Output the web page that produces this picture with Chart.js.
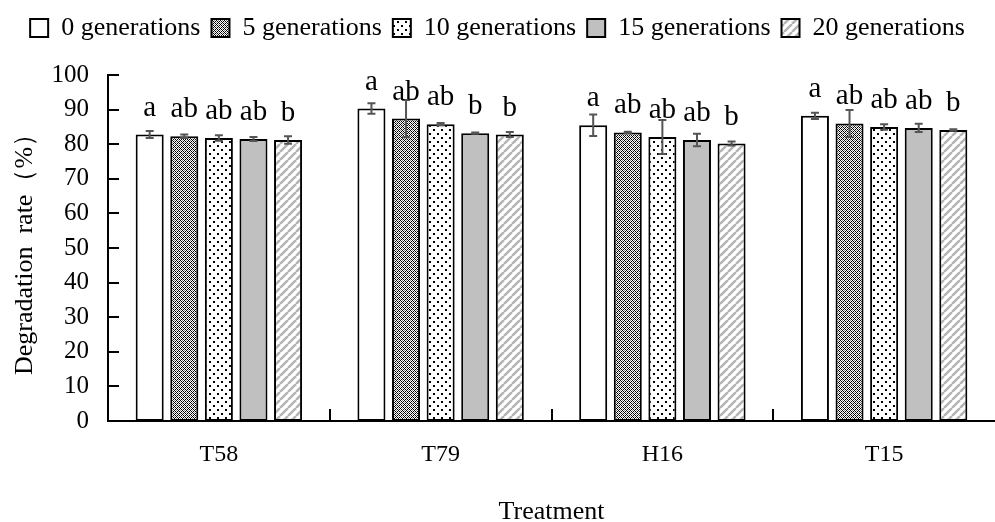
<!DOCTYPE html>
<html>
<head>
<meta charset="utf-8">
<script src="https://cdn.jsdelivr.net/npm/chart.js@4.4.1/dist/chart.umd.min.js"></script>
<style>
    body { margin: 0; background: #fff; }
    #wrap { width: 995px; height: 522px; }
</style>
</head>
<body>
<div id="wrap"><canvas id="degChart"></canvas></div>
<script>
// Datos
const categories = ['T58', 'T79', 'H16', 'T15'];
const seriesNames = ['0 generations', '5 generations', '10 generations', '15 generations', '20 generations'];

const gen0 = [82.8, 90.3, 85.5, 88.2];
const gen5 = [82.3, 87.4, 83.4, 86.0];
const gen10 = [81.8, 85.8, 82.1, 85.0];
const gen15 = [81.5, 83.2, 81.2, 84.7];
const gen20 = [81.2, 82.8, 80.2, 84.1];

const err0 = [1.0, 1.5, 3.1, 0.9];
const err5 = [0.5, 5.4, 0.2, 3.9];
const err10 = [0.8, 0.3, 4.9, 0.8];
const err15 = [0.6, 0.2, 1.8, 1.2];
const err20 = [1.1, 0.7, 0.6, 0.2];

const letters0 = ['a', 'a', 'a', 'a'];
const letters5 = ['ab', 'ab', 'ab', 'ab'];
const letters10 = ['ab', 'ab', 'ab', 'ab'];
const letters15 = ['ab', 'b', 'ab', 'ab'];
const letters20 = ['b', 'b', 'b', 'b'];

const yTicks = { min: 0, max: 100, step: 10 };

const FONT = "'Liberation Serif', 'Times New Roman', serif";

// Patrones de relleno
function makePattern(size, draw) {
    const c = document.createElement('canvas');
    c.width = size;
    c.height = size;
    const p = c.getContext('2d');
    p.fillStyle = '#fff';
    p.fillRect(0, 0, size, size);
    draw(p, size);
    return document.getElementById('degChart').getContext('2d').createPattern(c, 'repeat');
}

const checkPattern = makePattern(4, (p) => {
    p.fillStyle = '#000';
    for (let x = 0; x < 4; x++) {
        for (let y = 0; y < 4; y++) {
            if ((x + y) % 4 === 0 || (x - y + 4) % 4 === 0) p.fillRect(x, y, 1, 1);
        }
    }
    p.fillStyle = '#888';
    p.fillRect(2, 0, 1, 1);
    p.fillRect(0, 2, 1, 1);
});

const dotPattern = makePattern(8, (p) => {
    p.fillStyle = '#000';
    p.fillRect(1, 1, 2, 2);
    p.fillRect(5, 5, 2, 2);
});

const stripePattern = makePattern(8, (p, s) => {
    p.strokeStyle = '#b4b4b4';
    p.lineWidth = 2.5;
    for (let k = -1; k <= 1; k++) {
        p.beginPath();
        p.moveTo(k * s, s);
        p.lineTo(k * s + s, 0);
        p.stroke();
    }
});

const values = [gen0, gen5, gen10, gen15, gen20];
const errors = [err0, err5, err10, err15, err20];
const letters = [letters0, letters5, letters10, letters15, letters20];
const fills = ['#ffffff', checkPattern, dotPattern, '#c0c0c0', stripePattern];

const datasets = values.map((v, i) => ({
    label: seriesNames[i],
    data: v,
    backgroundColor: fills[i],
    borderColor: '#000',
    borderWidth: 2,
    borderSkipped: false,
    categoryPercentage: 0.78,
    barPercentage: 0.81
}));

// Barras de error y letras
const errorBars = {
    id: 'errorBars',
    afterDatasetsDraw(chart) {
        const ctx = chart.ctx;
        const y = chart.scales.y;
        ctx.save();
        values.forEach((v, i) => {
            const meta = chart.getDatasetMeta(i);
            meta.data.forEach((bar, j) => {
                const top = y.getPixelForValue(v[j] + errors[i][j]);
                const bot = y.getPixelForValue(v[j] - errors[i][j]);
                ctx.strokeStyle = '#555';
                ctx.lineWidth = 2;
                ctx.beginPath();
                ctx.moveTo(bar.x, top);
                ctx.lineTo(bar.x, bot);
                ctx.moveTo(bar.x - 4, top);
                ctx.lineTo(bar.x + 4, top);
                ctx.moveTo(bar.x - 4, bot);
                ctx.lineTo(bar.x + 4, bot);
                ctx.stroke();

                ctx.fillStyle = '#000';
                ctx.font = '29px ' + FONT;
                ctx.textAlign = 'center';
                ctx.textBaseline = 'alphabetic';
                ctx.fillText(letters[i][j], bar.x, bar.y - 19);
            });
        });
        ctx.restore();
    }
};

// Marcas de los ejes hacia dentro
const innerTicks = {
    id: 'innerTicks',
    afterDraw(chart) {
        const ctx = chart.ctx;
        const area = chart.chartArea;
        const x = chart.scales.x;
        const y = chart.scales.y;
        ctx.save();
        ctx.strokeStyle = '#000';
        ctx.lineWidth = 2;
        ctx.beginPath();
        y.ticks.forEach(t => {
            const py = Math.round(y.getPixelForValue(t.value));
            ctx.moveTo(area.left, py);
            ctx.lineTo(area.left + 11, py);
        });
        for (let i = 1; i < categories.length; i++) {
            const px = Math.round(x.getPixelForValue(i - 0.5));
            ctx.moveTo(px, area.bottom);
            ctx.lineTo(px, area.bottom - 12);
        }
        ctx.stroke();
        ctx.restore();
    }
};

// Espacio extra bajo la leyenda
const legendSpace = {
    id: 'legendSpace',
    beforeInit(chart) {
        const fit = chart.legend.fit;
        chart.legend.fit = function () {
            fit.bind(chart.legend)();
            this.height += 24;
        };
    }
};

const ctx = document.getElementById('degChart').getContext('2d');
new Chart(ctx, {
    type: 'bar',
    data: {
        labels: categories,
        datasets: datasets
    },
    options: {
        responsive: true,
        maintainAspectRatio: false,
        animation: false,
        layout: { padding: { top: 4, right: 0, bottom: 0, left: 0 } },
        plugins: {
            legend: {
                position: 'top',
                labels: {
                    boxWidth: 18,
                    boxHeight: 18,
                    padding: 11,
                    color: '#000',
                    font: { family: FONT, size: 26 }
                }
            },
            tooltip: { enabled: false }
        },
        scales: {
            x: {
                grid: { display: false },
                border: { color: '#000', width: 2 },
                afterFit(scale) { scale.height = 101; },
                ticks: {
                    color: '#000',
                    padding: 11,
                    font: { family: FONT, size: 24 }
                },
                title: {
                    display: true,
                    text: 'Treatment',
                    color: '#000',
                    padding: { top: 10, bottom: -6 },
                    font: { family: FONT, size: 26 }
                }
            },
            y: {
                min: yTicks.min,
                max: yTicks.max,
                grid: { display: false },
                border: { color: '#000', width: 2 },
                afterFit(scale) { scale.width = 108; },
                ticks: {
                    stepSize: yTicks.step,
                    color: '#000',
                    padding: 11,
                    font: { family: FONT, size: 25 }
                },
                title: {
                    display: true,
                    text: 'Degradation  rate（%）',
                    color: '#000',
                    padding: { top: 10, bottom: 0 },
                    font: { family: FONT, size: 26 }
                }
            }
        }
    },
    plugins: [errorBars, innerTicks, legendSpace]
});
</script>
</body>
</html>
